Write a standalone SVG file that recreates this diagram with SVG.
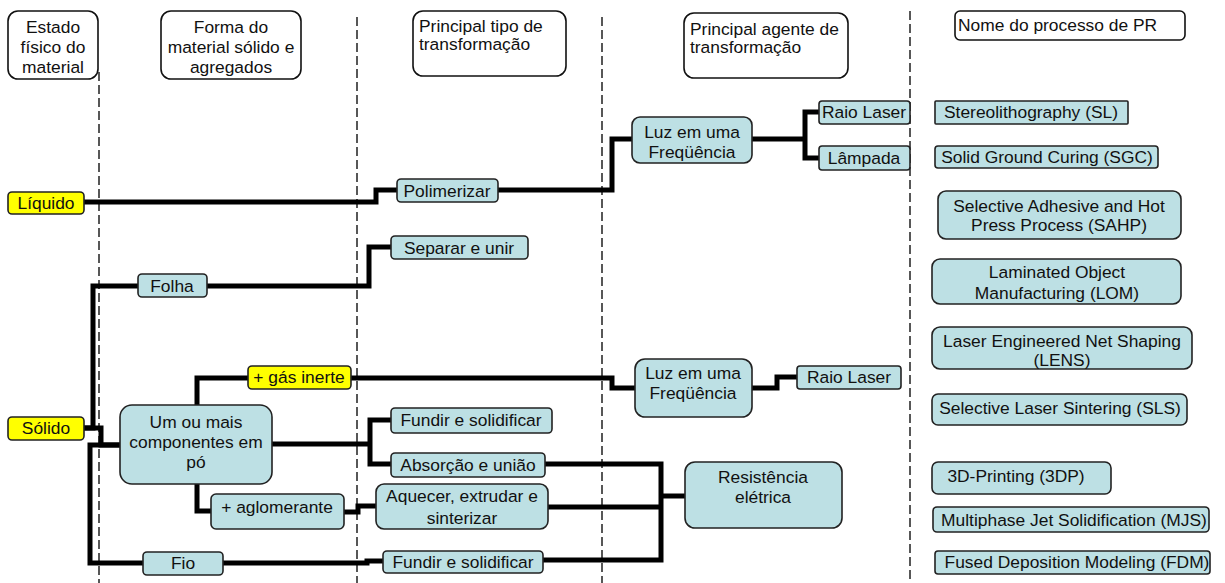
<svg xmlns="http://www.w3.org/2000/svg" width="1225" height="583" viewBox="0 0 1225 583">
<style>
text{font-family:"Liberation Sans",Arial,sans-serif;font-size:17.4px;fill:#111}
.c{text-anchor:middle}
.hd{fill:#fff;stroke:#111;stroke-width:1.6}
.nd{fill:#BDE0E4;stroke:#222;stroke-width:1.6}
.yl{fill:#FFFF00;stroke:#222;stroke-width:1.6}
.dash{stroke:#111;stroke-width:1.4;stroke-dasharray:9,4;fill:none}
.cn{stroke:#000;stroke-width:5;fill:none;stroke-linejoin:miter}
</style>
<rect width="1225" height="583" fill="#fff"/>
<g id="dividers">
<line class="dash" x1="99" y1="72" x2="99" y2="583"/>
<line class="dash" x1="357" y1="17" x2="357" y2="583"/>
<line class="dash" x1="602" y1="17" x2="602" y2="583"/>
<line class="dash" x1="910" y1="11" x2="910" y2="583"/>
</g>
<g id="connectors">
<path class="cn" d="M84 202 H376 V190 H397"/>
<path class="cn" d="M498 190 H612 V139 H632"/>
<path class="cn" d="M752 139 H805"/>
<path class="cn" d="M819 112 H805 V158 H819"/>
<path class="cn" d="M84 428 H93 V286 H138"/>
<path class="cn" d="M84 428 H101 V445 H120"/>
<path class="cn" d="M120 445 H90 V563 H143"/>
<path class="cn" d="M207 286 H369 V247 H391"/>
<path class="cn" d="M197 405 V378 H248"/>
<path class="cn" d="M351 378 H612 V388 H635"/>
<path class="cn" d="M752 388 H777 V377 H797"/>
<path class="cn" d="M272 444 H370"/>
<path class="cn" d="M391 420 H370 V464 H391"/>
<path class="cn" d="M197 484 V511 H211"/>
<path class="cn" d="M344 512 H358 V506 H376"/>
<path class="cn" d="M223 563 H367 V561 H383"/>
<path class="cn" d="M545 464 H661 V560 H543"/>
<path class="cn" d="M548 507 H661"/>
<path class="cn" d="M661 496 H685"/>
</g>
<g id="h1"><rect class="hd" x="8" y="11" width="90" height="68" rx="10"/><text class="c" x="53" y="33">Estado</text><text class="c" x="53" y="53">físico do</text><text class="c" x="53" y="73">material</text></g>
<g id="h2"><rect class="hd" x="161" y="11" width="140" height="68" rx="10"/><text class="c" x="231" y="33">Forma do</text><text class="c" x="231" y="53">material sólido e</text><text class="c" x="231" y="73">agregados</text></g>
<g id="h3"><rect class="hd" x="413" y="11" width="153" height="65" rx="10"/><text x="419" y="32">Principal tipo de</text><text x="419" y="50">transformação</text></g>
<g id="h4"><rect class="hd" x="684" y="13" width="164" height="65" rx="10"/><text x="690" y="35">Principal agente de</text><text x="690" y="53">transformação</text></g>
<g id="h5"><rect class="hd" x="955" y="11" width="230" height="29" rx="5"/><text x="958" y="31">Nome do processo de PR</text></g>

<g id="liquido"><rect class="yl" x="8" y="192" width="76" height="22" rx="4"/><text class="c" x="46" y="209">Líquido</text></g>
<g id="solido"><rect class="yl" x="8" y="417" width="76" height="23" rx="4"/><text class="c" x="46" y="434">Sólido</text></g>
<g id="folha"><rect class="nd" x="138" y="274" width="69" height="23" rx="4"/><text class="c" x="172" y="292">Folha</text></g>
<g id="po"><rect class="nd" x="120" y="405" width="152" height="79" rx="12"/><text class="c" x="196" y="428">Um ou mais</text><text class="c" x="196" y="448">componentes em</text><text class="c" x="196" y="468">pó</text></g>
<g id="gas"><rect class="yl" x="248" y="366" width="103" height="23" rx="4"/><text class="c" x="299" y="383">+ gás inerte</text></g>
<g id="aglomerante"><rect class="nd" x="211" y="494" width="133" height="35" rx="5"/><text class="c" x="277" y="513">+ aglomerante</text></g>
<g id="fio"><rect class="nd" x="143" y="552" width="80" height="23" rx="4"/><text class="c" x="183" y="569">Fio</text></g>

<g id="polimerizar"><rect class="nd" x="397" y="179" width="101" height="23" rx="4"/><text class="c" x="447" y="197">Polimerizar</text></g>
<g id="separar"><rect class="nd" x="391" y="236" width="137" height="23" rx="4"/><text class="c" x="459" y="254">Separar e unir</text></g>
<g id="fundir1"><rect class="nd" x="391" y="408" width="161" height="25" rx="4"/><text class="c" x="471" y="426">Fundir e solidificar</text></g>
<g id="absorcao"><rect class="nd" x="391" y="453" width="154" height="24" rx="4"/><text class="c" x="468" y="471">Absorção e união</text></g>
<g id="aquecer"><rect class="nd" x="376" y="484" width="172" height="45" rx="8"/><text class="c" x="462" y="502">Aquecer, extrudar e</text><text class="c" x="462" y="524">sinterizar</text></g>
<g id="fundir2"><rect class="nd" x="383" y="551" width="160" height="22" rx="4"/><text class="c" x="463" y="568">Fundir e solidificar</text></g>

<g id="luz1"><rect class="nd" x="632" y="117" width="120" height="46" rx="8"/><text class="c" x="692" y="138">Luz em uma</text><text class="c" x="692" y="158">Freqüência</text></g>
<g id="luz2"><rect class="nd" x="635" y="359" width="117" height="58" rx="10"/><text class="c" x="693" y="379">Luz em uma</text><text class="c" x="693" y="399">Freqüência</text></g>
<g id="resistencia"><rect class="nd" x="685" y="462" width="157" height="66" rx="10"/><text class="c" x="763" y="483">Resistência</text><text class="c" x="763" y="503">elétrica</text></g>
<g id="laser1"><rect class="nd" x="819" y="101" width="91" height="23" rx="3"/><text class="c" x="864" y="118">Raio Laser</text></g>
<g id="lampada"><rect class="nd" x="819" y="146" width="91" height="24" rx="3"/><text class="c" x="864" y="164">Lâmpada</text></g>
<g id="laser2"><rect class="nd" x="797" y="366" width="104" height="23" rx="3"/><text class="c" x="849" y="383">Raio Laser</text></g>

<g id="sl"><rect class="nd" x="935" y="101" width="193" height="23" rx="1"/><text class="c" x="1031" y="118">Stereolithography (SL)</text></g>
<g id="sgc"><rect class="nd" x="935" y="146" width="223" height="22" rx="3"/><text class="c" x="1047" y="163">Solid Ground Curing (SGC)</text></g>
<g id="sahp"><rect class="nd" x="938" y="191" width="243" height="48" rx="8"/><text class="c" x="1059" y="212">Selective Adhesive and Hot</text><text class="c" x="1059" y="231">Press Process (SAHP)</text></g>
<g id="lom"><rect class="nd" x="932" y="259" width="249" height="45" rx="8"/><text class="c" x="1057" y="278">Laminated Object</text><text class="c" x="1057" y="299">Manufacturing (LOM)</text></g>
<g id="lens"><rect class="nd" x="932" y="327" width="260" height="42" rx="8"/><text class="c" x="1062" y="347">Laser Engineered Net Shaping</text><text class="c" x="1062" y="366">(LENS)</text></g>
<g id="sls"><rect class="nd" x="932" y="394" width="255" height="31" rx="6"/><text class="c" x="1060" y="414">Selective Laser Sintering (SLS)</text></g>
<g id="p3dp"><rect class="nd" x="932" y="462" width="179" height="32" rx="6"/><text class="c" x="1016" y="482">3D-Printing (3DP)</text></g>
<g id="mjs"><rect class="nd" x="933" y="507" width="276" height="25" rx="4"/><text class="c" x="1074" y="526">Multiphase Jet Solidification (MJS)</text></g>
<g id="fdm"><rect class="nd" x="935" y="551" width="275" height="23" rx="3"/><text class="c" x="1077" y="568">Fused Deposition Modeling (FDM)</text></g>
</svg>
